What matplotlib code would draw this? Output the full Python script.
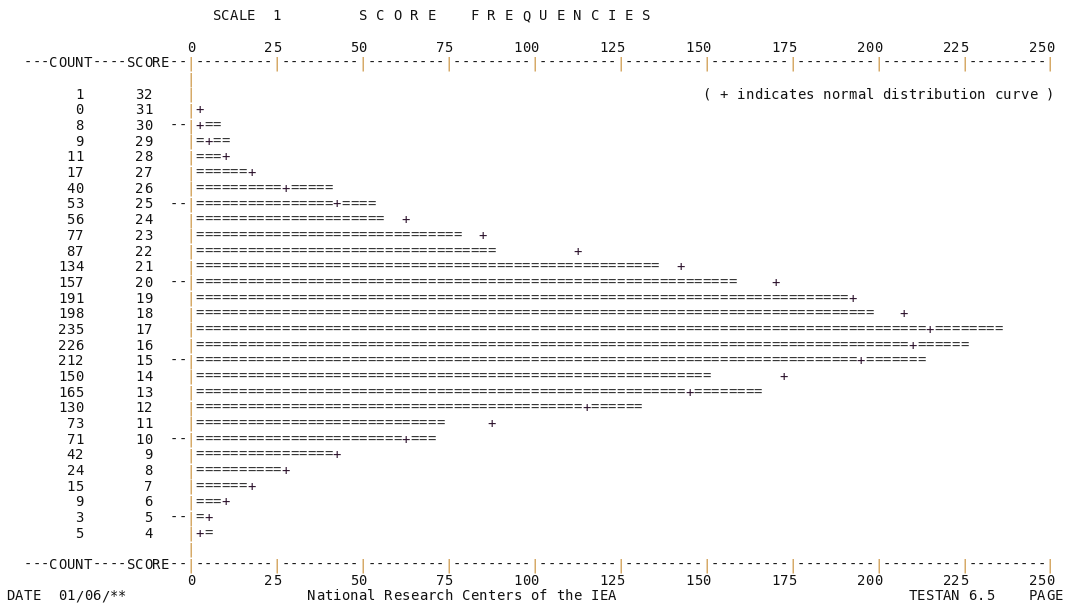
import matplotlib
matplotlib.use("Agg")
import matplotlib.pyplot as plt

# ---------------- data ----------------
scores = list(range(32, 3, -1))
counts = [1, 0, 8, 9, 11, 17, 40, 53, 56, 77, 87, 134, 157, 191, 198,
          235, 226, 212, 150, 165, 130, 73, 71, 42, 24, 15, 9, 3, 5]
# normal distribution curve (expected counts, read from '+' positions)
normal_curve = [0, 2.5, 2.5, 5, 10, 17.5, 27.5, 42.5, 62.5, 85, 112.5, 142.5,
                170, 192.5, 207.5, 215, 210, 195, 172.5, 145, 115, 87.5,
                62.5, 42.5, 27.5, 17.5, 10, 5, 2.5]
marked_scores = [30, 25, 20, 15, 10, 5]
tick_values = [0, 25, 50, 75, 100, 125, 150, 175, 200, 225, 250]
scale_label = "SCALE  1"
title = "S C O R E    F R E Q U E N C I E S"
legend_note = "( + indicates normal distribution curve )"
axis_header = "---COUNT----SCORE--"
date_text = "DATE  01/06/**"
center_footer = "National Research Centers of the IEA"
program_text = "TESTAN 6.5"
page_text = "PAGE"

# ---------------- layout (character grid) ----------------
W, H = 1067, 605
CW = 8.59          # pixel width of one character cell
LH = 15.68         # pixel height of one text line
UNIT = 2.5         # count units per character cell
X0_PX = 191        # pixel position of count 0
TOP_ROW_PX = 94    # pixel (from top) of score 32 row
AXIS_COL = 19      # column of the vertical axis '|'

FONT = "DejaVu Sans Mono"
FS = 10
TXT = "#111111"
BAR = "#2e2e2e"
PLUS = "#2a0f2a"
ORANGE = "#c98e36"
BASE = 0.30        # baseline offset in rows

fig = plt.figure(figsize=(W / 100, H / 100), dpi=100)
ax = fig.add_axes([0, 0, 1, 1])
ax.set_xlim(-X0_PX * UNIT / CW, (W - X0_PX) * UNIT / CW)
top = scores[0]
ax.set_ylim(top - (H - TOP_ROW_PX) / LH, top + TOP_ROW_PX / LH)
ax.axis("off")


def col_x(c):
    return (c - AXIS_COL) * UNIT


def put_char(x, y, ch, color=TXT):
    if ch == " ":
        return
    ax.text(x, y - BASE, ch, ha="center", va="baseline", family=FONT,
            fontsize=FS, color=color)


def put(col, y, s, color=TXT):
    for i, ch in enumerate(s):
        c = ORANGE if ch == "|" else color
        put_char(col_x(col + i), y, ch, c)


def put_right(end_col, y, s, color=TXT):
    put(end_col - len(s) + 1, y, s, color)


y_title = top + 5
y_tick_top = top + 3
y_axis_top = top + 2
y_blank_top = top + 1
y_blank_bot = scores[-1] - 1
y_axis_bot = scores[-1] - 2
y_tick_bot = scores[-1] - 3
y_footer = scores[-1] - 4

# title line
put(22, y_title, scale_label)
put(39, y_title, title)


def axis_line(y):
    put(0, y, axis_header)
    put_char(0, y, "|", ORANGE)
    n_cells = int(round(tick_values[-1] / UNIT))
    tick_cells = {int(round(v / UNIT)) for v in tick_values}
    for k in range(1, n_cells + 1):
        if k in tick_cells:
            put_char(k * UNIT, y, "|", ORANGE)
        else:
            put_char(k * UNIT, y, "-", TXT)


def tick_labels(y):
    for v in tick_values:
        s = str(v)
        k = int(round(v / UNIT))
        for i, ch in enumerate(s):
            put_char((k - len(s) + 1 + i) * UNIT, y, ch, TXT)


tick_labels(y_tick_top)
axis_line(y_axis_top)
axis_line(y_axis_bot)
tick_labels(y_tick_bot)

# blank rows with the axis only
put_char(0, y_blank_top, "|", ORANGE)
put_char(0, y_blank_bot, "|", ORANGE)

# legend note on first data row
put_right(119, top, legend_note)

# data rows
for s_val, cnt, nv in zip(scores, counts, normal_curve):
    y = s_val
    put_right(6, y, str(cnt))
    put_right(14, y, str(s_val))
    if s_val in marked_scores:
        put(17, y, "--")
    put_char(0, y, "|", ORANGE)
    n_bar = int(round(cnt / UNIT))
    k_plus = int(round(nv / UNIT))
    for k in range(1, max(n_bar, k_plus) + 1):
        if k == k_plus:
            put_char(k * UNIT, y, "+", PLUS)
        elif k <= n_bar:
            put_char(k * UNIT, y, "=", BAR)

# footer
put(-2, y_footer, date_text)
put(33, y_footer, center_footer)
put(103, y_footer, program_text)
put(117, y_footer, page_text)

fig.savefig("out.png", dpi=100, facecolor="white")
